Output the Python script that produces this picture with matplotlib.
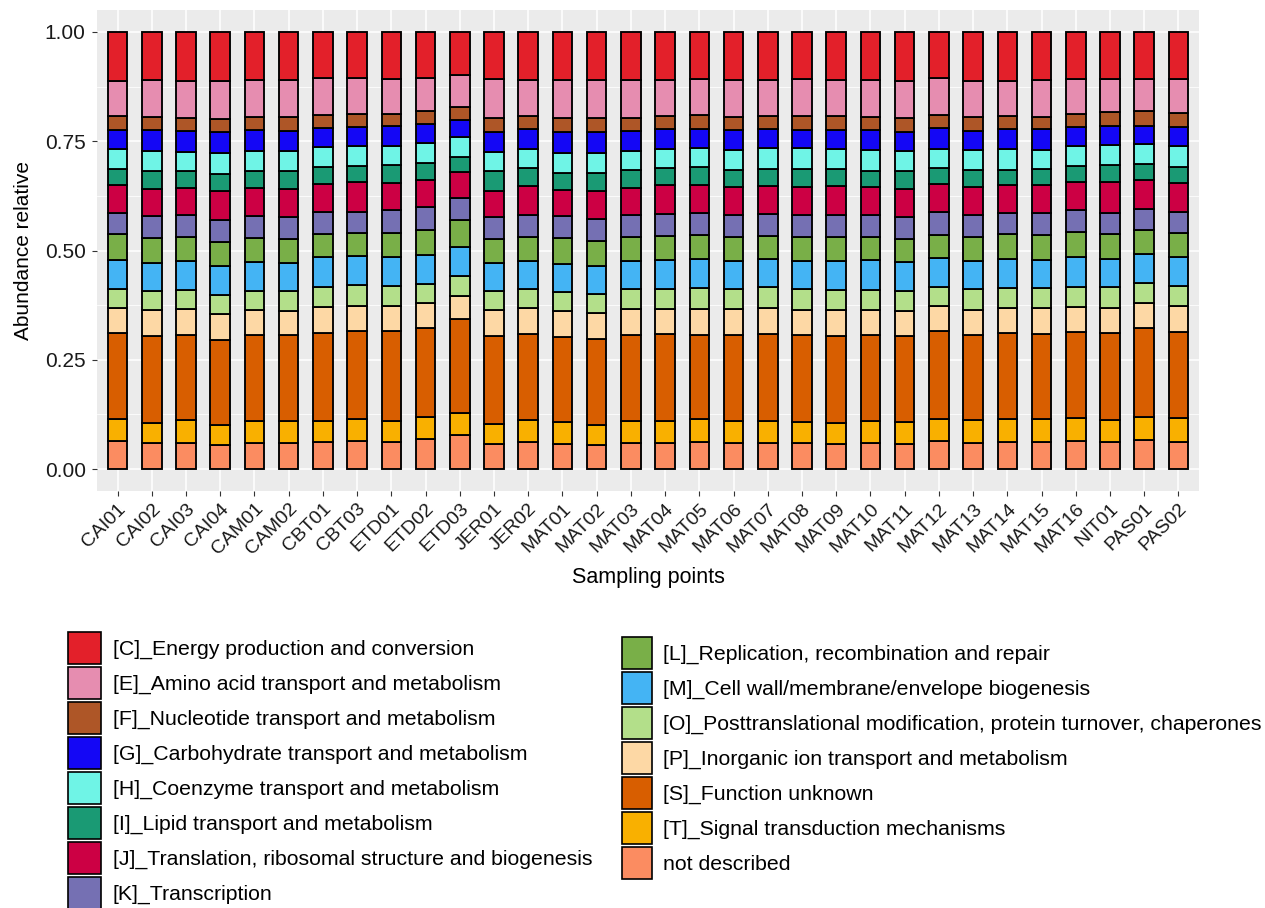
import numpy as np
import matplotlib
matplotlib.use("Agg")
import matplotlib.pyplot as plt
import matplotlib.transforms as mtransforms
from matplotlib.patches import Patch
from matplotlib.font_manager import FontProperties

plt.rcParams["font.family"] = ["Liberation Sans", "DejaVu Sans"]

samples = ["CAI01", "CAI02", "CAI03", "CAI04", "CAM01", "CAM02", "CBT01", "CBT03",
           "ETD01", "ETD02", "ETD03", "JER01", "JER02",
           "MAT01", "MAT02", "MAT03", "MAT04", "MAT05", "MAT06", "MAT07", "MAT08",
           "MAT09", "MAT10", "MAT11", "MAT12", "MAT13", "MAT14", "MAT15", "MAT16",
           "NIT01", "PAS01", "PAS02"]

# relative abundance of each COG category per sampling point
cog_c = [.112, .110, .113, .112, .111, .111, .106, .106, .107, .105, .099, .108, .109, .111, .109, .111,
         .109, .109, .111, .109, .109, .109, .111, .112, .106, .112, .112, .111, .109, .107, .107, .107]
cog_e = [.080, .084, .083, .087, .083, .084, .083, .081, .081, .076, .073, .088, .083, .086, .088, .085,
         .083, .082, .083, .083, .084, .083, .083, .085, .083, .083, .081, .083, .079, .077, .075, .079]
cog_f = [.031, .031, .031, .031, .031, .031, .031, .031, .028, .030, .029, .032, .031, .031, .032, .031,
         .031, .031, .031, .030, .031, .031, .031, .031, .031, .031, .029, .029, .029, .031, .033, .032]
cog_g = [.045, .047, .047, .047, .047, .047, .044, .043, .044, .044, .041, .046, .045, .048, .047, .046,
         .044, .044, .044, .044, .043, .044, .046, .045, .047, .045, .047, .047, .045, .044, .042, .044]
cog_h = [.045, .045, .045, .047, .046, .045, .044, .046, .044, .046, .044, .044, .044, .046, .046, .044,
         .045, .044, .047, .047, .047, .046, .047, .046, .045, .046, .046, .044, .046, .045, .045, .046]
cog_i = [.037, .041, .037, .041, .038, .041, .039, .037, .042, .038, .035, .045, .041, .040, .042, .041,
         .039, .040, .039, .038, .041, .039, .037, .041, .037, .038, .036, .037, .036, .040, .037, .037]
cog_j = [.064, .063, .062, .066, .066, .065, .065, .067, .062, .062, .059, .061, .065, .060, .065, .061,
         .065, .065, .064, .065, .064, .066, .064, .064, .063, .064, .064, .064, .064, .070, .065, .066]
cog_k = [.047, .050, .051, .050, .050, .050, .049, .048, .052, .053, .050, .050, .050, .050, .050, .050,
         .050, .050, .050, .050, .050, .050, .050, .050, .052, .050, .048, .050, .050, .049, .048, .048]
cog_l = [.059, .056, .056, .055, .055, .055, .054, .054, .055, .056, .063, .054, .055, .060, .057, .055,
         .055, .056, .054, .053, .055, .054, .054, .053, .054, .054, .057, .056, .058, .056, .055, .057]
cog_m = [.066, .064, .065, .065, .065, .064, .067, .067, .066, .067, .067, .065, .064, .064, .063, .065,
         .066, .066, .064, .065, .065, .067, .067, .066, .065, .066, .066, .065, .067, .065, .067, .066]
cog_o = [.044, .044, .044, .044, .044, .045, .046, .047, .045, .044, .045, .042, .045, .042, .044, .044,
         .047, .047, .046, .046, .047, .046, .047, .045, .044, .046, .045, .045, .046, .047, .046, .045]
cog_p = [.057, .060, .059, .059, .057, .057, .060, .057, .058, .056, .054, .060, .059, .060, .060, .060,
         .058, .059, .058, .060, .059, .060, .058, .058, .057, .059, .058, .060, .059, .057, .058, .060]
cog_s = [.197, .198, .194, .194, .196, .196, .201, .202, .204, .205, .215, .202, .197, .195, .195, .197,
         .198, .194, .197, .199, .197, .197, .196, .197, .202, .194, .197, .195, .195, .200, .202, .197]
cog_t = [.050, .047, .054, .047, .051, .050, .049, .050, .048, .049, .050, .046, .051, .050, .047, .050,
         .050, .053, .051, .050, .049, .048, .050, .049, .050, .052, .051, .053, .054, .050, .054, .053]
cog_nd = [.064, .059, .059, .055, .060, .060, .061, .064, .063, .070, .078, .057, .061, .057, .055, .060,
          .060, .061, .059, .060, .060, .058, .060, .058, .064, .060, .063, .061, .064, .062, .066, .063]

labels = ["[C]_Energy production and conversion",
          "[E]_Amino acid transport and metabolism",
          "[F]_Nucleotide transport and metabolism",
          "[G]_Carbohydrate transport and metabolism",
          "[H]_Coenzyme transport and metabolism",
          "[I]_Lipid transport and metabolism",
          "[J]_Translation, ribosomal structure and biogenesis",
          "[K]_Transcription",
          "[L]_Replication, recombination and repair",
          "[M]_Cell wall/membrane/envelope biogenesis",
          "[O]_Posttranslational modification, protein turnover, chaperones",
          "[P]_Inorganic ion transport and metabolism",
          "[S]_Function unknown",
          "[T]_Signal transduction mechanisms",
          "not described"]
colors = ["#E3202A", "#E68DB0", "#AE5627", "#1407F5", "#6FF4E6", "#1A9A74", "#CC0044", "#7570B3",
          "#79AF48", "#44B4F4", "#B3DF8A", "#FDD8A5", "#D85E00", "#F9B000", "#FB8C61"]
series = [cog_c, cog_e, cog_f, cog_g, cog_h, cog_i, cog_j, cog_k,
          cog_l, cog_m, cog_o, cog_p, cog_s, cog_t, cog_nd]

W, H = 1265, 908
fig = plt.figure(figsize=(W / 100, H / 100), dpi=100)
ax = fig.add_axes([97 / W, 1 - 491 / H, 1102 / W, 481 / H])
ax.set_facecolor("#EBEBEB")

x = np.arange(len(samples))
vals = np.array(series, dtype=float)
fill = vals / vals.sum(axis=0)  # stacked to 1 per sampling point

bottom = np.zeros(len(samples))
for i in range(len(series) - 1, -1, -1):
    ax.bar(x, fill[i], width=0.57, bottom=bottom, color=colors[i],
           edgecolor="black", linewidth=1.35, zorder=3)
    bottom += fill[i]

ax.set_xlim(-0.6, len(samples) - 1 + 0.6)
ax.set_ylim(-0.05, 1.05)
ax.set_yticks([0, 0.25, 0.5, 0.75, 1.0])
ax.set_yticklabels(["0.00", "0.25", "0.50", "0.75", "1.00"])
ax.set_yticks([0.125, 0.375, 0.625, 0.875], minor=True)
ax.set_xticks(x)
ax.set_xticklabels(samples, rotation=45, ha="right", va="top", rotation_mode="anchor")
shift = mtransforms.ScaledTranslation(4 / 100, 0, fig.dpi_scale_trans)
for lab in ax.get_xticklabels():
    lab.set_transform(lab.get_transform() + shift)

ax.grid(which="major", color="white", linewidth=1.1, zorder=0)
ax.grid(which="minor", axis="y", color="white", linewidth=0.55, zorder=0)
ax.set_axisbelow(True)
for sp in ax.spines.values():
    sp.set_visible(False)
ax.tick_params(which="minor", length=0)
ax.tick_params(which="major", length=3.6, width=0.8, color="#333333",
               labelcolor="#1A1A1A", pad=3)
ax.tick_params(axis="y", labelsize=15, pad=4.5)
ax.tick_params(axis="x", labelsize=14)

ax.set_ylabel("Abundance relative", fontsize=15, color="black")
ax.yaxis.set_label_coords((33 - 97) / 1102, 0.5)
ax.set_xlabel("Sampling points", fontsize=15.5, color="black")
ax.xaxis.set_label_coords(0.5, (491 - 567) / 481)

handles = [Patch(facecolor=c, edgecolor="black", linewidth=1.2) for c in colors]


def key_height(px, size_pt):
    # handleheight giving a legend key of `px` pixels at this font size
    pt = px * 72 / 100
    return (pt / size_pt - 0.245) / 0.65


legend_size = 15.3
fs = legend_size * 100 / 72
legend_font = FontProperties(family=["Liberation Sans", "DejaVu Sans"], size=legend_size)
leg1 = fig.legend(handles[:8], labels[:8], loc="upper left",
                  bbox_to_anchor=(68 / W, 1 - 632 / H), frameon=False,
                  prop=legend_font,
                  handlelength=33 / fs, handleheight=key_height(32, legend_size),
                  labelspacing=3 / fs,
                  handletextpad=12 / fs, borderpad=0, borderaxespad=0)
leg2 = fig.legend(handles[8:], labels[8:], loc="upper left",
                  bbox_to_anchor=(622 / W, 1 - 637 / H), frameon=False,
                  prop=legend_font,
                  handlelength=30 / fs, handleheight=key_height(32, legend_size),
                  labelspacing=3 / fs,
                  handletextpad=11 / fs, borderpad=0, borderaxespad=0)

fig.savefig("out.png", dpi=100)
